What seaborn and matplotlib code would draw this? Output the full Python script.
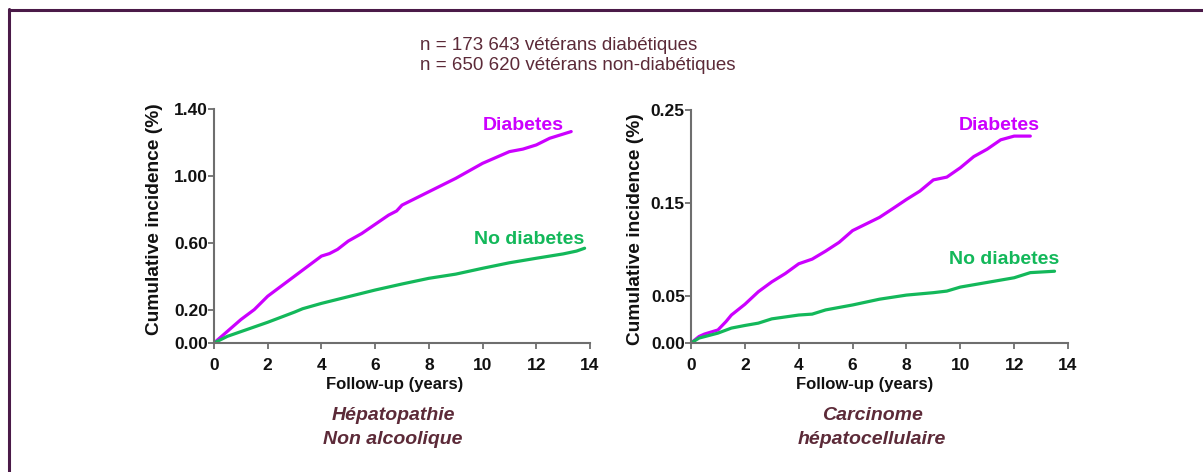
import numpy as np
import pandas as pd
import matplotlib
matplotlib.use("Agg")
import matplotlib.pyplot as plt
from matplotlib.lines import Line2D
import seaborn as sns

sns.set_theme(style="ticks")
plt.rcParams["font.family"] = ["Liberation Sans", "DejaVu Sans"]

# --- Non-alcoholic liver disease: cumulative incidence (%) by follow-up year
nafld_years_diab = [0, 0.5, 1, 1.5, 2, 2.5, 3, 3.5, 4, 4.3, 4.6, 5, 5.5, 6, 6.5, 6.8, 7,
                    7.5, 8, 8.5, 9, 9.5, 10, 10.5, 11, 11.5, 12, 12.5, 13, 13.3]
nafld_diab = [0.0, 0.07, 0.14, 0.20, 0.28, 0.34, 0.40, 0.46, 0.52, 0.535, 0.56, 0.61,
              0.655, 0.71, 0.765, 0.79, 0.825, 0.865, 0.905, 0.945, 0.985, 1.03, 1.075,
              1.11, 1.145, 1.16, 1.185, 1.225, 1.25, 1.265]
nafld_years_nodiab = [0, 0.5, 1, 2, 3, 3.3, 4, 5, 6, 7, 8, 9, 10, 11, 12, 13, 13.5, 13.8]
nafld_nodiab = [0.0, 0.04, 0.068, 0.124, 0.185, 0.205, 0.237, 0.277, 0.317, 0.353,
                0.387, 0.412, 0.447, 0.48, 0.507, 0.533, 0.55, 0.567]

# --- Hepatocellular carcinoma: cumulative incidence (%) by follow-up year
hcc_years_diab = [0, 0.3, 0.5, 1, 1.3, 1.5, 2, 2.5, 3, 3.5, 4, 4.5, 5, 5.5, 6, 6.5, 7,
                  7.5, 8, 8.5, 9, 9.5, 10, 10.5, 11, 11.5, 12, 12.6]
hcc_diab = [0.0, 0.007, 0.0096, 0.014, 0.023, 0.030, 0.0415, 0.055, 0.0656, 0.0745,
            0.085, 0.090, 0.0986, 0.108, 0.1206, 0.1277, 0.1348, 0.1443, 0.154, 0.163,
            0.175, 0.178, 0.188, 0.200, 0.208, 0.218, 0.222, 0.222]
hcc_years_nodiab = [0, 0.3, 1, 1.5, 2, 2.5, 3, 4, 4.5, 5, 6, 7, 8, 9, 9.5, 10, 11, 12,
                    12.6, 13.5]
hcc_nodiab = [0.0, 0.0053, 0.0106, 0.016, 0.0188, 0.0213, 0.0259, 0.030, 0.031, 0.0355,
              0.0408, 0.047, 0.0514, 0.054, 0.0557, 0.060, 0.065, 0.070, 0.0755, 0.077]

groups = ["Diabetes", "No diabetes"]
nafld_ticks = [0.0, 0.20, 0.60, 1.00, 1.40]
hcc_ticks = [0.0, 0.05, 0.15, 0.25]
x_ticks = [0, 2, 4, 6, 8, 10, 12, 14]

header_lines = ["n = 173 643 vétérans diabétiques", "n = 650 620 vétérans non-diabétiques"]
panel_titles = [["Hépatopathie", "Non alcoolique"], ["Carcinome", "hépatocellulaire"]]

PURPLE = "#cc00ff"
GREEN = "#13b85a"
BROWN = "#5c2a38"
SPINE = "#6e6e6e"


def long_frame(t_d, v_d, t_n, v_n):
    return pd.concat([
        pd.DataFrame({"t": t_d, "v": v_d, "group": groups[0]}),
        pd.DataFrame({"t": t_n, "v": v_n, "group": groups[1]}),
    ], ignore_index=True)


W, H = 1203, 472
fig = plt.figure(figsize=(W / 100, H / 100), dpi=100)
ax1 = fig.add_axes([214 / W, 1 - 343 / H, 376 / W, 234 / H])
ax2 = fig.add_axes([691 / W, 1 - 343 / H, 377 / W, 233 / H])

panels = [
    (ax1, long_frame(nafld_years_diab, nafld_diab, nafld_years_nodiab, nafld_nodiab),
     nafld_ticks, ["0.00", "0.20", "0.60", "1.00", "1.40"],
     (523, 126), (529, 239), (-0.136, 0.53), (0.481, -0.145)),
    (ax2, long_frame(hcc_years_diab, hcc_diab, hcc_years_nodiab, hcc_nodiab),
     hcc_ticks, ["0.00", "0.05", "0.15", "0.25"],
     (999, 126), (1004, 260), (-0.125, 0.49), (0.46, -0.146)),
]

for ax, df, yt, ytl, pos_d, pos_n, ylab_xy, xlab_xy in panels:
    sns.lineplot(data=df, x="t", y="v", hue="group", palette=[PURPLE, GREEN],
                 linewidth=2.3, legend=False, ax=ax, estimator=None, sort=True)
    ax.set_xlim(0, 14)
    ax.set_ylim(0, yt[-1])
    ax.set_xticks(x_ticks)
    ax.set_yticks(yt)
    ax.set_yticklabels(ytl)
    ax.tick_params(axis="both", direction="out", length=4, width=1.3, color=SPINE,
                   labelsize=12.5, labelcolor="#111111")
    ax.tick_params(axis="y", pad=0.5)
    ax.tick_params(axis="x", pad=7)
    for lab in ax.get_xticklabels() + ax.get_yticklabels():
        lab.set_fontweight("bold")
    for s in ("top", "right"):
        ax.spines[s].set_visible(False)
    for s in ("left", "bottom"):
        ax.spines[s].set_color(SPINE)
        ax.spines[s].set_linewidth(1.5)
    ax.set_xlabel("Follow-up (years)", fontsize=12, fontweight="bold", color="#111111")
    ax.set_ylabel("Cumulative incidence (%)", fontsize=13.8, fontweight="bold",
                  color="#111111")
    ax.yaxis.set_label_coords(*ylab_xy)
    ax.xaxis.set_label_coords(*xlab_xy)
    ax.set_facecolor("none")
    fig.text(pos_d[0] / W, 1 - pos_d[1] / H, "Diabetes", color=PURPLE,
             fontsize=14, fontweight="bold", ha="center", va="center")
    fig.text(pos_n[0] / W, 1 - pos_n[1] / H, "No diabetes", color=GREEN,
             fontsize=14, fontweight="bold", ha="center", va="center")

# header lines
for i, line in enumerate(header_lines):
    fig.text(420 / W, 1 - (45 + 21 * i) / H, line, color=BROWN, fontsize=13.5,
             ha="left", va="center")

# panel captions
for cx, lines in zip([393, 872], panel_titles):
    for i, line in enumerate(lines):
        fig.text(cx / W, 1 - (415 + 24 * i) / H, line, color=BROWN, fontsize=14,
                 fontweight="bold", fontstyle="italic", ha="center", va="center")

# surrounding frame (top and left edges)
frame_color = "#4a1a48"
fig.add_artist(Line2D([8.5 / W, 1.0], [1 - 10 / H, 1 - 10 / H],
                      transform=fig.transFigure, color=frame_color, linewidth=2.2))
fig.add_artist(Line2D([9 / W, 9 / W], [0.0, 1 - 9 / H],
                      transform=fig.transFigure, color=frame_color, linewidth=2.2))

fig.savefig("out.png", dpi=100, facecolor="white")
